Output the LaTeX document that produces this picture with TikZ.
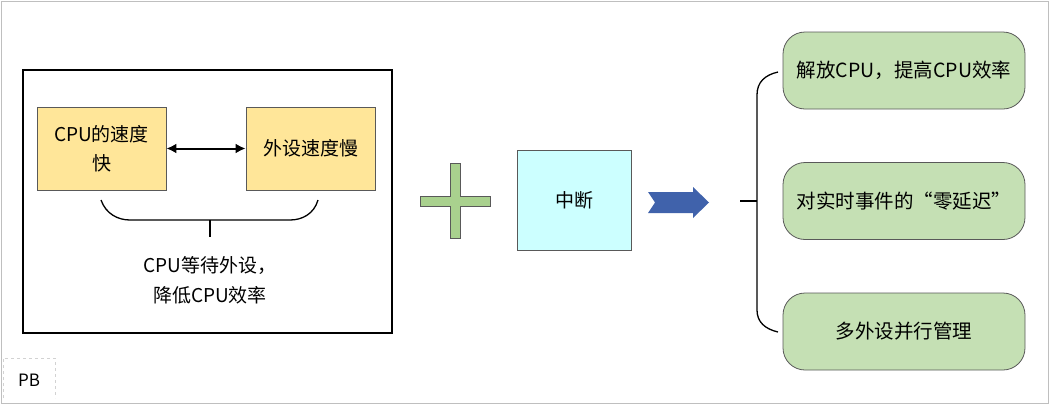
\documentclass[tikz,border=0pt]{standalone}
\usepackage{fontspec}
\setmainfont{Noto Sans CJK SC}
\usetikzlibrary{arrows.meta}
\definecolor{ybox}{HTML}{FFE699}
\definecolor{gbox}{HTML}{C5E0B4}
\definecolor{plusg}{HTML}{A9D18E}
\definecolor{cyanbox}{HTML}{CCFFFF}
\definecolor{bluearr}{HTML}{4062AB}
\definecolor{edgegray}{HTML}{595959}
\tikzset{
  ybx/.style={draw=edgegray, line width=0.8pt, fill=ybox, minimum width=129pt, minimum height=83pt, inner sep=0pt, align=center, font=\fontsize{19}{29}\selectfont},
  gbx/.style={draw=edgegray, line width=0.8pt, fill=gbox, rounded corners=22pt, minimum width=242pt, minimum height=77pt, inner sep=0pt, font=\fontsize{19.5}{24}\selectfont},
  txt/.style={font=\fontsize{19}{30}\selectfont, align=center},
  brace/.style={line width=1.3pt, black}
}
\begin{document}
\begin{tikzpicture}[x=1pt,y=-1pt]
\useasboundingbox (0,0) rectangle (1050,405);
\draw[gray!50, line width=0.8pt] (1.5,1.5) rectangle (1048.5,403.5);
% PB
\draw[gray!35, dashed, line width=0.8pt] (3,398) |- (55,358) -- (55,398);
\node[font=\fontsize{17}{20}\selectfont] (pb) at (29,380) {PB};
% left big box
\node[draw=black, line width=1.8pt, minimum width=369pt, minimum height=263pt, inner sep=0pt] (frame) at (207.5,201.5) {};
\node[ybx] (cpu) at (101.5,148.5) {CPU的速度\\快};
\node[ybx] (dev) at (310.5,148.5) {外设速度慢};
\draw[line width=2pt, {Latex[length=10pt,width=10pt]}-{Latex[length=10pt,width=10pt]}] (cpu.east) -- (dev.west);
\coordinate (bl) at (101,200);
\coordinate (br) at (318,200);
\coordinate (bm) at (210,220);
\coordinate (bt) at (210,237);
\draw[brace] (bl) .. controls (106,214) and (118,220) .. (130,220) -- (290,220) .. controls (302,220) and (314,214) .. (br);
\draw[brace] (bm) -- (bt);
\node[txt] (wait) at (210,280) {CPU等待外设，\\降低CPU效率};
% plus
\node[inner sep=0pt] (plus) at (455,200.5) {};
\draw[draw=edgegray, line width=0.8pt, fill=plusg] (420,196) -- (450,196) -- (450,163) -- (460,163) -- (460,196) -- (490,196) -- (490,206) -- (460,206) -- (460,238) -- (450,238) -- (450,206) -- (420,206) -- cycle;
% interrupt box
\node[draw=edgegray, line width=0.8pt, fill=cyanbox, minimum width=114pt, minimum height=100pt, inner sep=0pt, font=\fontsize{19}{24}\selectfont] (irq) at (574,200) {中断};
% chevron arrow
\fill[bluearr] (648,192) -- (693,192) -- (693,187) -- (709,202.5) -- (693,218) -- (693,213) -- (648,213) -- (655,202.5) -- cycle;
% right boxes
\node[gbx] (r1) at (904,70.5) {解放CPU，提高CPU效率};
\node[gbx] (r2) at (904,201) {对实时事件的“零延迟”};
\node[gbx] (r3) at (904,331.5) {多外设并行管理};
\coordinate (rt) at (778,72);
\coordinate (rb) at (778,332);
\coordinate (rm) at (740,201);
\draw[brace] (rt) .. controls (765,75) and (757,82) .. (757,95) -- (757,310) .. controls (757,322) and (765,329) .. (rb);
\draw[brace] (rm) -- (757,201);
\end{tikzpicture}
\end{document}
